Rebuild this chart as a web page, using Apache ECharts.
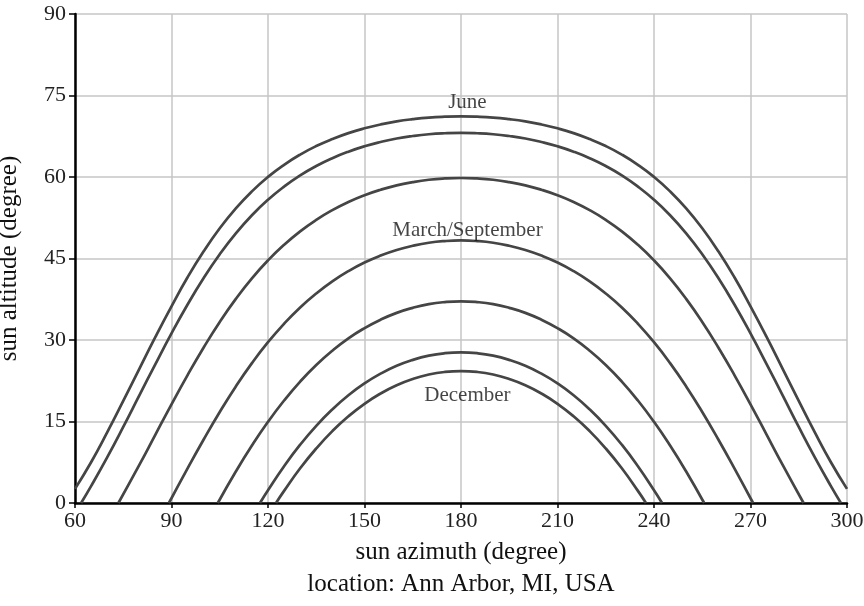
<!DOCTYPE html>
<html>
<head>
<meta charset="utf-8">
<script src="https://cdn.jsdelivr.net/npm/echarts@6/dist/echarts.min.js"></script>
<style>html,body{margin:0;padding:0;background:#fff;}#c{width:864px;height:606px;}</style>
</head>
<body>
<div id="c"></div>
<script>
// x ticks (azimuth) and y ticks (altitude)
var xTicks = [60, 90, 120, 150, 180, 210, 240, 270, 300];
var yTicks = [0, 15, 30, 45, 60, 75, 90];

// sun paths: [azimuth, altitude]
var june = [[60,2.6],[65,7.5],[70,12.99],[75,18.78],[80,24.7],[85,30.58],[90,36.2],[95,41.54],[100,46.32],[105,50.56],[110,54.23],[115,57.36],[120,60.02],[125,62.25],[130,64.13],[135,65.7],[140,66.99],[145,68.08],[150,68.96],[155,69.67],[160,70.23],[165,70.64],[170,70.94],[175,71.1],[180,71.16],[185,71.1],[190,70.94],[195,70.64],[200,70.23],[205,69.67],[210,68.96],[215,68.08],[220,66.99],[225,65.7],[230,64.13],[235,62.25],[240,60.02],[245,57.36],[250,54.23],[255,50.56],[260,46.32],[265,41.54],[270,36.2],[275,30.58],[280,24.7],[285,18.78],[290,12.99],[295,7.5],[300,2.6]];
var mayJul = [[61.9,0],[65,3.1],[70,8.39],[75,14.0],[80,19.8],[85,25.57],[90,31.21],[95,36.53],[100,41.42],[105,45.78],[110,49.63],[115,52.96],[120,55.81],[125,58.23],[130,60.3],[135,62.02],[140,63.46],[145,64.66],[150,65.65],[155,66.44],[160,67.08],[165,67.54],[170,67.87],[175,68.05],[180,68.12],[185,68.05],[190,67.87],[195,67.54],[200,67.08],[205,66.44],[210,65.65],[215,64.66],[220,63.46],[225,62.02],[230,60.3],[235,58.23],[240,55.81],[245,52.96],[250,49.63],[255,45.78],[260,41.42],[265,36.53],[270,31.21],[275,25.57],[280,19.8],[285,14.0],[290,8.39],[295,3.1],[298.1,0]];
var aprAug = [[73.5,0],[80,7.01],[85,12.59],[90,18.16],[95,23.55],[100,28.63],[105,33.33],[110,37.57],[115,41.35],[120,44.65],[125,47.52],[130,50.0],[135,52.11],[140,53.9],[145,55.41],[150,56.65],[155,57.66],[160,58.47],[165,59.06],[170,59.49],[175,59.73],[180,59.82],[185,59.73],[190,59.49],[195,59.06],[200,58.47],[205,57.66],[210,56.65],[215,55.41],[220,53.9],[225,52.11],[230,50.0],[235,47.52],[240,44.65],[245,41.35],[250,37.57],[255,33.33],[260,28.63],[265,23.55],[270,18.16],[275,12.59],[280,7.01],[286.5,0]];
var marSep = [[89.2,0],[95,6.37],[100,11.69],[105,16.75],[110,21.46],[115,25.74],[120,29.59],[125,32.99],[130,35.99],[135,38.57],[140,40.79],[145,42.68],[150,44.26],[155,45.54],[160,46.57],[165,47.34],[170,47.9],[175,48.21],[180,48.32],[185,48.21],[190,47.9],[195,47.34],[200,46.57],[205,45.54],[210,44.26],[215,42.68],[220,40.79],[225,38.57],[230,35.99],[235,32.99],[240,29.59],[245,25.74],[250,21.46],[255,16.75],[260,11.69],[265,6.37],[270.8,0]];
var febOct = [[104.4,0],[110,5.79],[115,10.57],[120,14.94],[125,18.86],[130,22.35],[135,25.4],[140,28.03],[145,30.3],[150,32.18],[155,33.74],[160,34.99],[165,35.92],[170,36.6],[175,36.98],[180,37.12],[185,36.98],[190,36.6],[195,35.92],[200,34.99],[205,33.74],[210,32.18],[215,30.3],[220,28.03],[225,25.4],[230,22.35],[235,18.86],[240,14.94],[245,10.57],[250,5.79],[255.6,0]];
var janNov = [[117.5,0],[120,2.35],[125,6.77],[130,10.73],[135,14.21],[140,17.23],[145,19.83],[150,22.01],[155,23.8],[160,25.25],[165,26.34],[170,27.12],[175,27.57],[180,27.72],[185,27.57],[190,27.12],[195,26.34],[200,25.25],[205,23.8],[210,22.01],[215,19.83],[220,17.23],[225,14.21],[230,10.73],[235,6.77],[240,2.35],[242.5,0]];
var december = [[122.5,0],[125,2.23],[130,6.39],[135,10.04],[140,13.23],[145,15.96],[150,18.26],[155,20.15],[160,21.67],[165,22.82],[170,23.64],[175,24.12],[180,24.28],[185,24.12],[190,23.64],[195,22.82],[200,21.67],[205,20.15],[210,18.26],[215,15.96],[220,13.23],[225,10.04],[230,6.39],[235,2.23],[237.5,0]];

var curveNames = ['June', 'May/July', 'April/August', 'March/September', 'February/October', 'January/November', 'December'];
var curves = [june, mayJul, aprAug, marSep, febOct, janNov, december];

// annotations [azimuth, altitude, text]
var annotations = [[182, 73.7, 'June'], [182, 50.2, 'March/September'], [182, 19.8, 'December']];

var FONT = "'Liberation Serif', 'Times New Roman', serif";
var chart = echarts.init(document.getElementById('c'), null, {renderer: 'canvas'});

var series = curves.map(function (d, i) {
  return {
    name: curveNames[i], type: 'line', data: d, smooth: 0.5, symbol: 'none',
    lineStyle: {color: '#454545', width: 2.7}, z: 3, animation: false
  };
});
series.push({
  type: 'scatter', data: annotations, symbolSize: 0, z: 5, animation: false,
  label: {show: true, position: 'inside', formatter: function (p) { return p.data[2]; },
    fontFamily: FONT, fontSize: 21, color: '#151515'}
});

chart.setOption({
  backgroundColor: '#fff',
  animation: false,
  grid: {left: 75, right: 17, top: 14, bottom: 103, containLabel: false, outerBoundsMode: 'none'},
  xAxis: {
    type: 'value', min: xTicks[0], max: xTicks[xTicks.length - 1], interval: 30,
    name: 'sun azimuth (degree)\nlocation: Ann Arbor, MI, USA',
    nameLocation: 'middle', nameGap: 32,
    nameTextStyle: {fontFamily: FONT, fontSize: 25, color: '#111', lineHeight: 32},
    axisLine: {show: true, lineStyle: {color: '#000', width: 2.5}},
    axisTick: {show: true, length: 5, lineStyle: {color: '#000', width: 1.5}},
    axisLabel: {fontFamily: FONT, fontSize: 22, color: '#222', margin: 7},
    splitLine: {show: true, lineStyle: {color: '#c6c6c6', width: 1.5}}
  },
  yAxis: {
    type: 'value', min: yTicks[0], max: yTicks[yTicks.length - 1], interval: 15,
    name: 'sun altitude (degree)',
    nameLocation: 'middle', nameGap: 53,
    nameTextStyle: {fontFamily: FONT, fontSize: 25, color: '#111'},
    axisLine: {show: true, lineStyle: {color: '#000', width: 2.5}},
    axisTick: {show: true, length: 6, lineStyle: {color: '#000', width: 1.5}},
    axisLabel: {fontFamily: FONT, fontSize: 22, color: '#222', margin: 9},
    splitLine: {show: true, lineStyle: {color: '#c6c6c6', width: 1.5}}
  },
  series: series
});
</script>
</body>
</html>
